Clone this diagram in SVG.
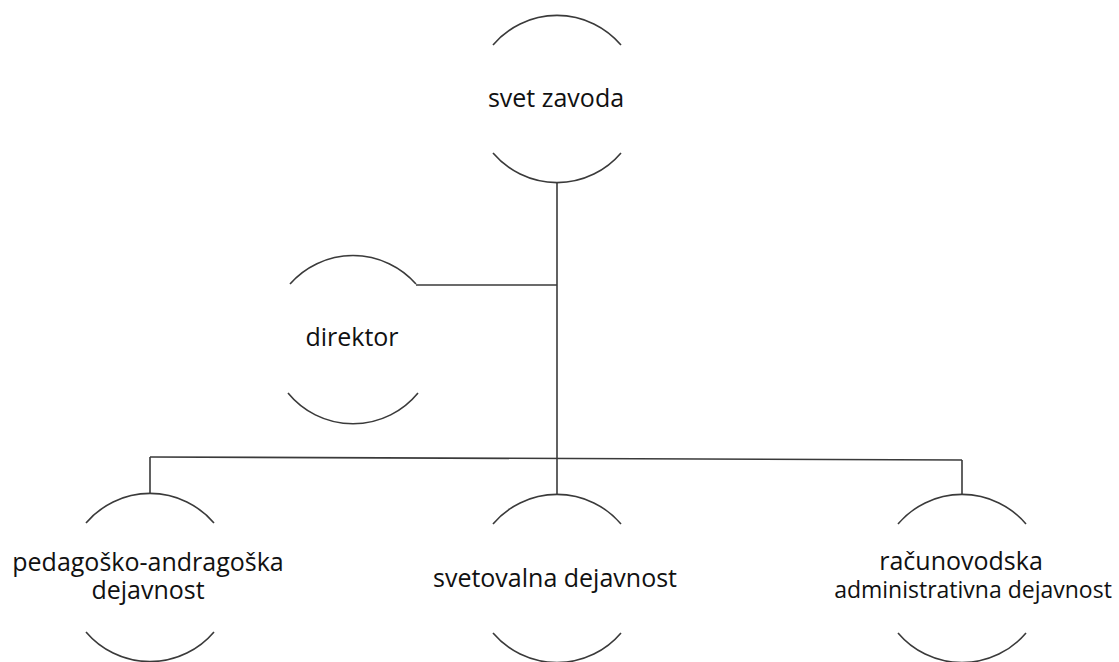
<svg xmlns="http://www.w3.org/2000/svg" width="1119" height="662" viewBox="0 0 1119 662">
<style>
.arc{fill:none;stroke:#3a3a3a;stroke-width:1.6}
.ln{fill:none;stroke:#3a3a3a;stroke-width:1.6}
text{font-family:"Open Sans","Noto Sans",sans-serif;font-size:25px;fill:#111;text-anchor:middle}
</style>
<rect width="1119" height="662" fill="#fff"/>
<g id="connectors">
<path class="ln" d="M557 183 V458"/>
<path class="ln" d="M416 285 H557"/>
<path class="ln" d="M150 457 L962 460"/>
<path class="ln" d="M150 457 V493"/>
<path class="ln" d="M557 458 V494"/>
<path class="ln" d="M962 460 V494"/>
</g>
<g id="svet-zavoda">
<path class="arc" d="M493 45 A84 84 0 0 1 621 45"/>
<path class="arc" d="M493 153 A84 84 0 0 0 621 153"/>
<text x="556" y="107">svet zavoda</text>
</g>
<g id="direktor">
<path class="arc" d="M290 284 A84 84 0 0 1 416 284"/>
<path class="arc" d="M288 393 A84 84 0 0 0 418 393"/>
<text x="352" y="346">direktor</text>
</g>
<g id="pedagosko">
<path class="arc" d="M86 523 A84 84 0 0 1 214 523"/>
<path class="arc" d="M86 632 A84 84 0 0 0 214 632"/>
<text x="148" y="571">pedagoško-andragoška</text>
<text x="148" y="599">dejavnost</text>
</g>
<g id="svetovalna">
<path class="arc" d="M493 524 A84 84 0 0 1 621 524"/>
<path class="arc" d="M493 633 A84 84 0 0 0 621 633"/>
<text x="555" y="587">svetovalna dejavnost</text>
</g>
<g id="racunovodska">
<path class="arc" d="M898 524 A84 84 0 0 1 1026 524"/>
<path class="arc" d="M898 633 A84 84 0 0 0 1026 633"/>
<text x="961" y="570">računovodska</text>
<text x="973" y="598" style="font-size:23px">administrativna dejavnost</text>
</g>
</svg>
